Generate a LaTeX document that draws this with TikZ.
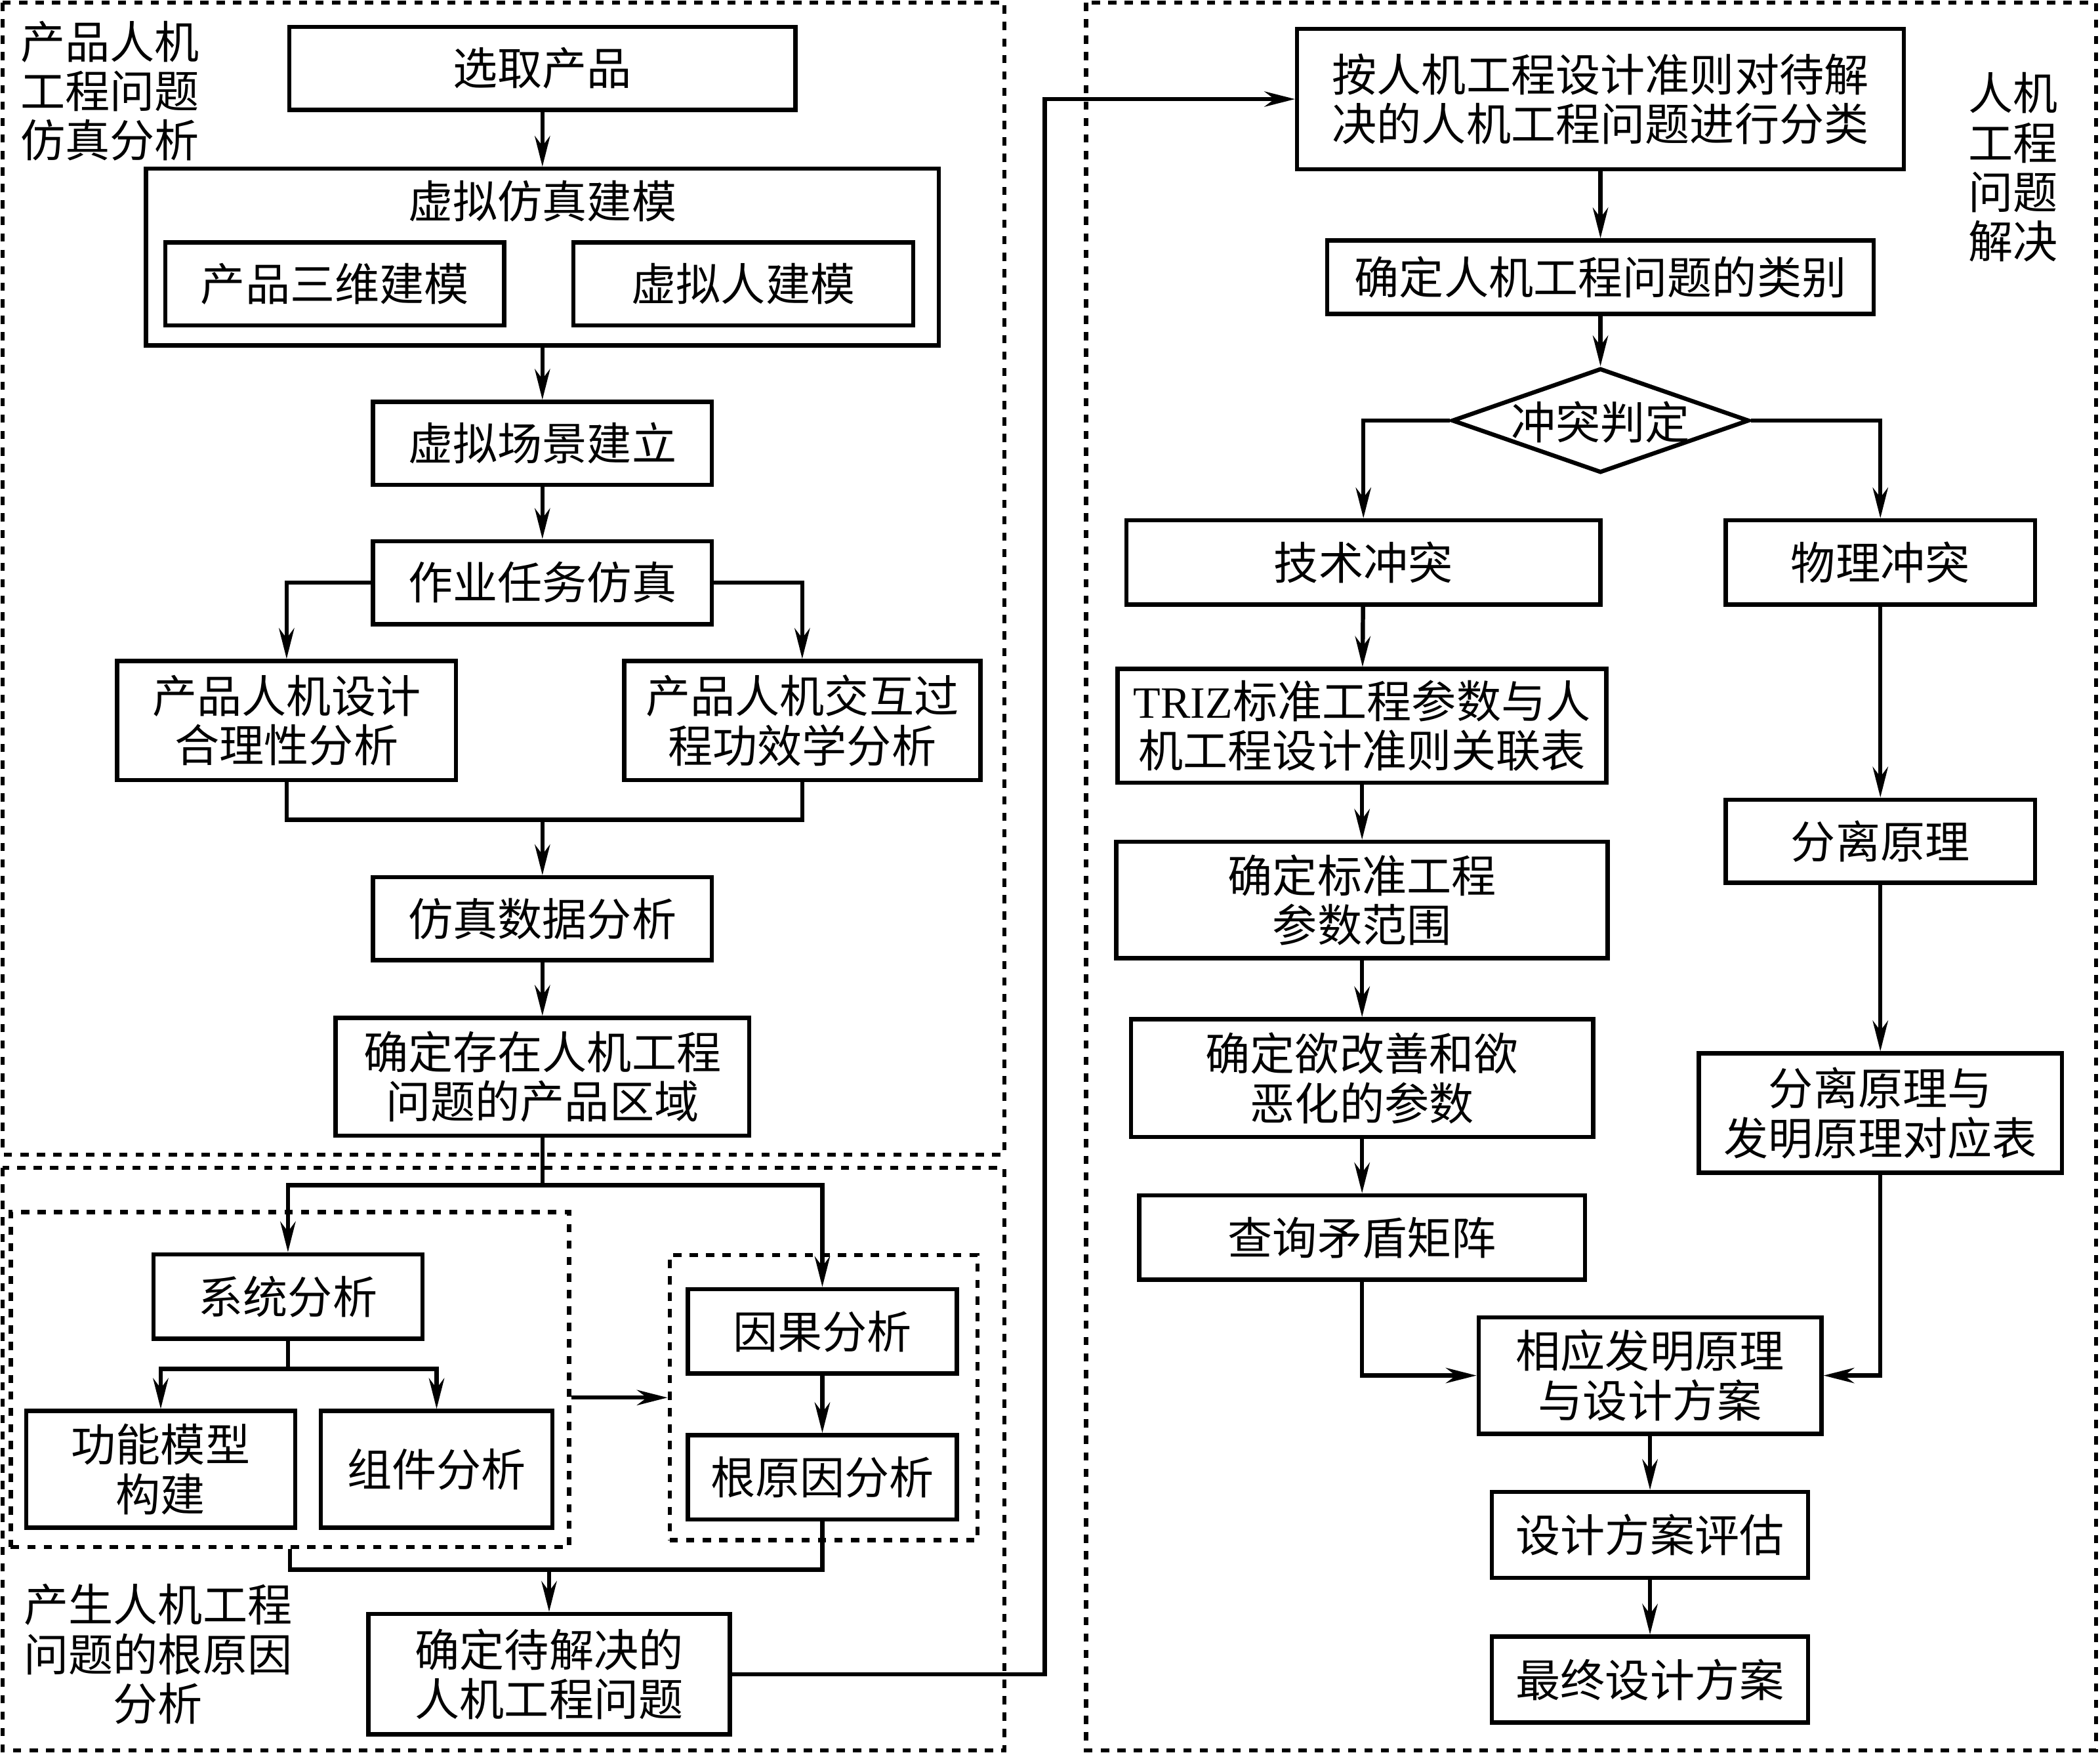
\documentclass[tikz,border=0pt]{standalone}
\usepackage{fontspec}
\setmainfont{Noto Sans CJK SC}
\newfontfamily\latinfont{Liberation Serif}
\usetikzlibrary{positioning, arrows.meta, shapes.geometric}

\begin{document}
\begin{tikzpicture}[x=0.02cm, y=-0.02cm,
                    box/.style={rectangle, draw, line width=1.8pt, align=center, inner sep=0pt, font=\fontsize{19}{21}\selectfont},
                    txt/.style={align=center, inner sep=0pt, font=\fontsize{19}{21}\selectfont},
                    frame/.style={draw, line width=1.8pt, dash pattern=on 3.5pt off 3.5pt},
                    line/.style={line width=1.8pt},
                    arr/.style={line width=1.8pt, -{Stealth[length=13pt, width=6.5pt]}}]
                    \useasboundingbox (0,0) rectangle (1568,1310);

                    \draw[frame] (2,2) rectangle (750,862);
                    \draw[frame] (2,872) rectangle (750,1307);
                    \draw[frame] (811,2) rectangle (1565,1307);

                    \node[txt, align=left] (toplabel) at (82,68) {产品人机\\工程问题\\仿真分析};
                    \node[txt] (bottomlabel) at (118,1235) {产生人机工程\\问题的根原因\\分析};
                    \node[txt] (rightlabel) at (1503,125) {人机\\工程\\问题\\解决};

                    \node[box, minimum width=7.56cm, minimum height=1.24cm] (pick) at (405,51) {选取产品};
                    \node[box, minimum width=11.84cm, minimum height=2.64cm] (vsim) at (405,192) {};
                    \node[txt] (vsimtitle) at (405,150) {虚拟仿真建模};
                    \node[box, minimum width=5.06cm, minimum height=1.24cm] (model) at (250,212) {产品三维建模};
                    \node[box, minimum width=5.08cm, minimum height=1.24cm] (human) at (555,212) {虚拟人建模};
                    \node[box, minimum width=5.06cm, minimum height=1.24cm] (scene) at (405,331) {虚拟场景建立};
                    \node[box, minimum width=5.06cm, minimum height=1.24cm] (task) at (405,435) {作业任务仿真};
                    \node[box, minimum width=5.06cm, minimum height=1.78cm] (design) at (214,538) {产品人机设计\\合理性分析};
                    \node[box, minimum width=5.32cm, minimum height=1.78cm] (interact) at (599,538) {产品人机交互过\\程功效学分析};
                    \node[box, minimum width=5.06cm, minimum height=1.24cm] (simdata) at (405,686) {仿真数据分析};
                    \node[box, minimum width=6.18cm, minimum height=1.76cm] (region) at (405,804) {确定存在人机工程\\问题的产品区域};

                    \node[frame, minimum width=8.34cm, minimum height=5cm] (sysgroup) at (216.5,1030) {};
                    \node[frame, minimum width=4.6cm, minimum height=4.26cm] (causegroup) at (615,1043.5) {};
                    \node[box, minimum width=4.02cm, minimum height=1.26cm] (system) at (215,968) {系统分析};
                    \node[box, minimum width=4.02cm, minimum height=1.74cm] (function) at (120,1097) {功能模型\\构建};
                    \node[box, minimum width=3.46cm, minimum height=1.74cm] (component) at (326,1097) {组件分析};
                    \node[box, minimum width=4.02cm, minimum height=1.26cm] (cause) at (614,994) {因果分析};
                    \node[box, minimum width=4.02cm, minimum height=1.26cm] (rootcause) at (614,1103) {根原因分析};
                    \node[box, minimum width=5.4cm, minimum height=1.8cm] (solve) at (410,1250) {确定待解决的\\人机工程问题};

                    \node[box, minimum width=9.06cm, minimum height=2.1cm] (classify) at (1195,74) {按人机工程设计准则对待解\\决的人机工程问题进行分类};
                    \node[box, minimum width=8.16cm, minimum height=1.1cm] (category) at (1195,207) {确定人机工程问题的类别};
                    \node[diamond, draw, line width=1.8pt, aspect=2.85, inner sep=0pt, minimum width=4.44cm, minimum height=1.56cm, font=\fontsize{19}{21}\selectfont] (judge) at (1195,314) {\smash{\raisebox{-0.42em}{冲突判定}}};
                    \node[box, minimum width=7.08cm, minimum height=1.26cm] (tech) at (1018,420) {技术冲突};
                    \node[box, minimum width=4.62cm, minimum height=1.26cm] (phys) at (1404,420) {物理冲突};
                    \node[box, minimum width=7.3cm, minimum height=1.7cm] (triz) at (1017,542) {{\latinfont TRIZ}标准工程参数与人\\机工程设计准则关联表};
                    \node[box, minimum width=7.34cm, minimum height=1.74cm] (scope) at (1017,672) {确定标准工程\\参数范围};
                    \node[box, minimum width=6.9cm, minimum height=1.76cm] (improve) at (1017,805) {确定欲改善和欲\\恶化的参数};
                    \node[box, minimum width=6.66cm, minimum height=1.26cm] (matrix) at (1017,924) {查询矛盾矩阵};
                    \node[box, minimum width=4.62cm, minimum height=1.24cm] (separate) at (1404,628) {分离原理};
                    \node[box, minimum width=5.42cm, minimum height=1.78cm] (septable) at (1404,831) {分离原理与\\发明原理对应表};
                    \node[box, minimum width=5.12cm, minimum height=1.74cm] (invent) at (1232,1027) {相应发明原理\\与设计方案};
                    \node[box, minimum width=4.72cm, minimum height=1.28cm] (evaluate) at (1232,1146) {设计方案评估};
                    \node[box, minimum width=4.72cm, minimum height=1.28cm] (final) at (1232,1254) {最终设计方案};

                    \coordinate (merge1) at (405,612);
                    \coordinate (split) at (405,885);
                    \coordinate (branch) at (215,1022);
                    \coordinate (merge2) at (410,1172);
                    \coordinate (jump) at (780,1250);

                    \draw[arr] (pick) -- (vsim);
                    \draw[arr] (vsim) -- (scene);
                    \draw[arr] (scene) -- (task);
                    \draw[arr] (task.west) -| (design.north);
                    \draw[arr] (task.east) -| (interact.north);
                    \draw[line] (design.south) |- (merge1) -| (interact.south);
                    \draw[arr] (merge1) -- (simdata);
                    \draw[arr] (simdata) -- (region);
                    \draw[line] (region) -- (split);
                    \draw[arr] (split) -| (system.north);
                    \draw[arr] (split) -| (cause.north);
                    \draw[line] (system) -- (branch);
                    \draw[arr] (branch) -| (function.north);
                    \draw[arr] (branch) -| (component.north);
                    \draw[arr] (cause) -- (rootcause);
                    \draw[arr] (sysgroup.east |- causegroup) -- (causegroup.west);
                    \draw[line] (sysgroup.south) |- (merge2) -| (rootcause.south);
                    \draw[arr] (merge2) -- (solve);
                    \draw[arr] (solve.east) -- (jump) |- (classify.west);

                    \draw[arr] (classify) -- (category);
                    \draw[arr] (category) -- (judge);
                    \draw[arr] (judge.west) -| (tech.north);
                    \draw[arr] (judge.east) -| (phys.north);
                    \draw[arr] (tech) -- (triz);
                    \draw[arr] (triz) -- (scope);
                    \draw[arr] (scope) -- (improve);
                    \draw[arr] (improve) -- (matrix);
                    \draw[arr] (phys) -- (separate);
                    \draw[arr] (separate) -- (septable);
                    \draw[arr] (matrix.south) |- (invent.west);
                    \draw[arr] (septable.south) |- (invent.east);
                    \draw[arr] (invent) -- (evaluate);
                    \draw[arr] (evaluate) -- (final);
                \end{tikzpicture}
\end{document}
